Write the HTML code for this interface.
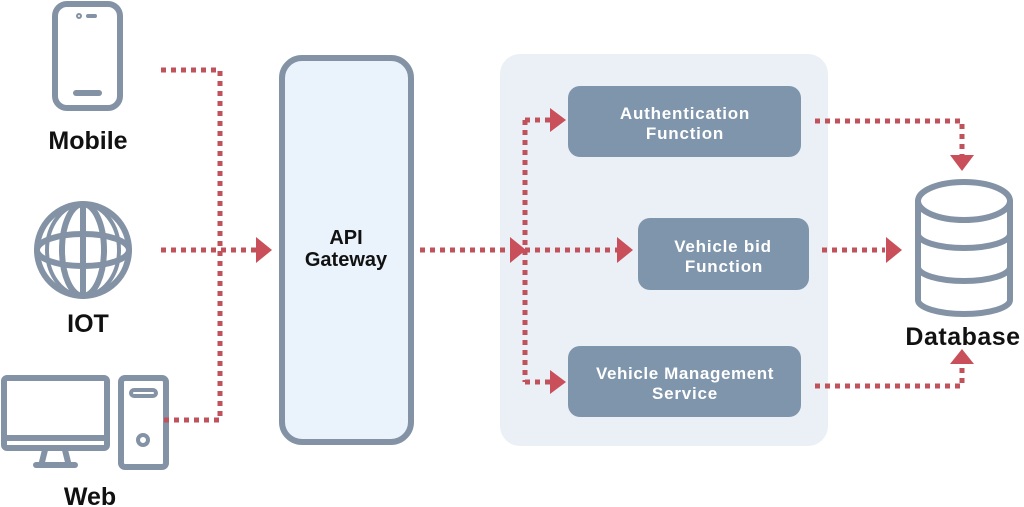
<!DOCTYPE html>
<html><head><meta charset="utf-8"><style>
html,body{margin:0;padding:0;background:#fff;}
svg{display:block;}
text{font-family:"Liberation Sans",sans-serif;}
</style></head><body>
<svg width="1024" height="507" viewBox="0 0 1024 507" xmlns="http://www.w3.org/2000/svg">
<rect x="500" y="54" width="328" height="392" rx="20" fill="#ebf0f7"/>
<rect x="282" y="58" width="129" height="384" rx="20" fill="#eaf2fb" stroke="#8393a5" stroke-width="6"/>
<text x="346" y="244" font-size="20" font-weight="bold" text-anchor="middle" fill="#111">API</text>
<text x="346" y="266" font-size="20" font-weight="bold" text-anchor="middle" fill="#111">Gateway</text>

<g fill="none" stroke="#8393a5" stroke-width="6" stroke-linecap="round">
  <rect x="55" y="4" width="65" height="104" rx="12"/>
  <line x1="76" y1="93" x2="99" y2="93"/>
  <line x1="88" y1="16" x2="95" y2="16" stroke-width="4"/>
  <circle cx="79" cy="16" r="1" stroke-width="4"/>
  <circle cx="83" cy="250" r="46"/>
  <ellipse cx="83" cy="250" rx="21" ry="46"/>
  <ellipse cx="83" cy="250" rx="36" ry="46" stroke-width="4"/>
  <line x1="83" y1="204" x2="83" y2="296"/>
  <ellipse cx="83" cy="250" rx="46" ry="16"/>
  <rect x="4" y="378" width="103" height="70" rx="3"/>
  <line x1="6" y1="438" x2="105" y2="438"/>
  <path d="M45 450 L42 462 M65 450 L68 462"/>
  <line x1="36" y1="465" x2="75" y2="465"/>
  <rect x="121" y="378" width="45" height="89" rx="4"/>
  <rect x="131" y="390" width="25" height="6" rx="3" stroke-width="4"/>
  <circle cx="143" cy="440" r="5" stroke-width="4"/>
  <path d="M918 201 L918 300 A46 14 0 0 0 1010 300 L1010 201"/>
  <ellipse cx="964" cy="201" rx="46" ry="19"/>
  <path d="M918 234 A46 14 0 0 0 1010 234"/>
  <path d="M918 267 A46 14 0 0 0 1010 267"/>
</g>
<text x="88" y="149" font-size="25" font-weight="bold" text-anchor="middle" fill="#111">Mobile</text>
<text x="88" y="332" font-size="25" font-weight="bold" text-anchor="middle" fill="#111">IOT</text>
<text x="90" y="505" font-size="25" font-weight="bold" text-anchor="middle" fill="#111">Web</text>
<text x="963" y="345" font-size="25" font-weight="bold" text-anchor="middle" fill="#111" letter-spacing="0.5">Database</text>

<rect x="568" y="86" width="233" height="71" rx="12" fill="#7f95ab"/>
<text x="685" y="119" font-size="17" font-weight="bold" text-anchor="middle" fill="#fff" letter-spacing="0.8">Authentication</text>
<text x="685" y="139" font-size="17" font-weight="bold" text-anchor="middle" fill="#fff" letter-spacing="0.8">Function</text>
<rect x="638" y="218" width="171" height="72" rx="12" fill="#7f95ab"/>
<text x="723" y="252" font-size="17" font-weight="bold" text-anchor="middle" fill="#fff" letter-spacing="0.8">Vehicle bid</text>
<text x="724" y="272" font-size="17" font-weight="bold" text-anchor="middle" fill="#fff" letter-spacing="0.8">Function</text>
<rect x="568" y="346" width="233" height="71" rx="12" fill="#7f95ab"/>
<text x="685" y="379" font-size="17" font-weight="bold" text-anchor="middle" fill="#fff" letter-spacing="0.6">Vehicle Management</text>
<text x="685" y="399" font-size="17" font-weight="bold" text-anchor="middle" fill="#fff" letter-spacing="0.8">Service</text>

<g fill="none" stroke="#c0525c" stroke-width="5" stroke-dasharray="5 5">
  <path d="M161 70 H220 V420 H161"/>
  <path d="M161 250 H258"/>
  <path d="M420 250 H510"/>
  <path d="M525 120 V382"/>
  <path d="M525 120 H550"/>
  <path d="M525 250 H617"/>
  <path d="M525 382 H550"/>
  <path d="M815 121 H962 V155"/>
  <path d="M822 250 H885"/>
  <path d="M815 386 H962 V365"/>
</g>
<g fill="#c9505a">
  <polygon points="256,237 272,250 256,263"/>
  <polygon points="510,237 526,250 510,263"/>
  <polygon points="550,108 566,120 550,132"/>
  <polygon points="617,237 633,250 617,263"/>
  <polygon points="550,370 566,382 550,394"/>
  <polygon points="950,155 974,155 962,171"/>
  <polygon points="886,237 902,250 886,263"/>
  <polygon points="950,364 974,364 962,349"/>
</g>
</svg>
</body></html>
